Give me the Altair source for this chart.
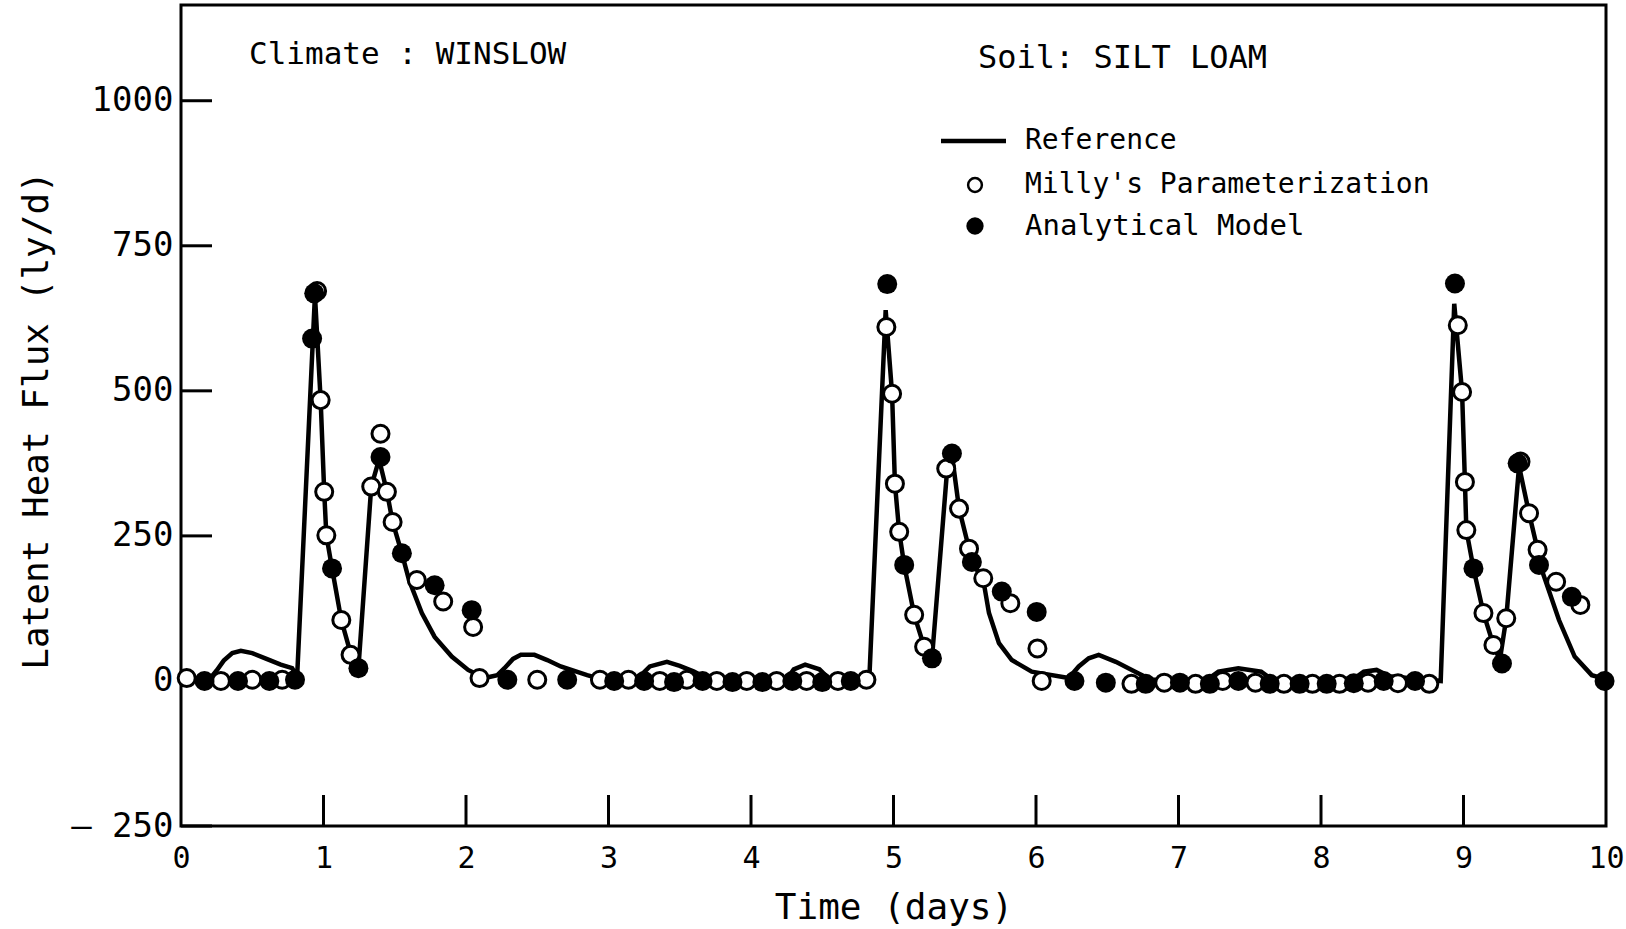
import altair as alt
import pandas as pd

# Reference simulation (solid curve), day vs latent heat flux (ly/d)
ref_day = [0.00, 0.20, 0.25, 0.30, 0.36, 0.42, 0.50, 0.60, 0.70, 0.78,
           0.815, 0.94, 0.98, 1.005, 1.02, 1.06, 1.125, 1.19, 1.245, 1.335,
           1.39, 1.445, 1.485, 1.55, 1.60, 1.69, 1.78, 1.90, 2.015, 2.13,
           2.22, 2.27, 2.33, 2.385, 2.48, 2.57, 2.665, 2.85, 2.95, 3.20,
           3.29, 3.41, 3.50, 3.60, 3.70, 4.25, 4.30, 4.38, 4.48, 4.55,
           4.83, 4.945, 4.99, 5.01, 5.04, 5.075, 5.145, 5.215, 5.27, 5.38,
           5.41, 5.46, 5.53, 5.55, 5.63, 5.67, 5.74, 5.83, 5.97, 6.04,
           6.23, 6.30, 6.37, 6.44, 6.56, 6.72, 6.81, 7.20, 7.28, 7.42,
           7.58, 7.66, 8.22, 8.30, 8.39, 8.48, 8.84, 8.935, 8.99, 9.01,
           9.02, 9.07, 9.14, 9.21, 9.255, 9.30, 9.39, 9.46, 9.52, 9.55,
           9.67, 9.78, 9.90, 10.00]
ref_flux = [3, 3, 18, 35, 48, 52, 48, 38, 28, 22,
            8, 665, 484, 326, 251, 194, 105, 48, 22, 335,
            382, 326, 274, 220, 174, 117, 76, 42, 19, 5,
            10, 22, 38, 45, 45, 36, 25, 10, 3, 3,
            25, 33, 26, 16, 3, 3, 20, 28, 20, 3,
            2, 639, 495, 340, 257, 200, 114, 59, 39, 375,
            390, 297, 228, 205, 174, 117, 65, 36, 16, 13,
            5, 25, 39, 45, 33, 13, 2, 2, 16, 22,
            16, 2, 2, 16, 19, 8, 0, 650, 498, 343,
            260, 194, 117, 62, 36, 108, 370, 289, 226, 191,
            105, 42, 10, 3]

# Milly's parameterization (open circles)
milly_day = [0.04, 0.28, 0.50, 0.71, 0.955, 0.98, 1.005, 1.02, 1.125, 1.19,
             1.335, 1.40, 1.445, 1.485, 1.655, 1.84, 2.05, 2.095, 2.50, 2.94,
             3.14, 3.36, 3.55, 3.76, 3.97, 4.18, 4.39, 4.61, 4.81, 4.95,
             4.99, 5.01, 5.04, 5.145, 5.215, 5.37, 5.46, 5.53, 5.63, 5.82,
             6.01, 6.04, 6.67, 6.90, 7.12, 7.31, 7.54, 7.74, 7.94, 8.13,
             8.33, 8.54, 8.76, 8.96, 8.99, 9.01, 9.02, 9.14, 9.21, 9.30,
             9.40, 9.46, 9.52, 9.65, 9.82]
milly_flux = [5, 0, 2, 2, 672, 484, 326, 251, 105, 45,
              335, 426, 326, 274, 174, 137, 93, 5, 2, 2,
              2, 0, 2, 0, 0, 0, 0, 0, 2, 610,
              495, 340, 257, 114, 59, 366, 297, 228, 177, 134,
              56, 0, -5, -3, -5, 0, -3, -5, -5, -5,
              -3, -4, -5, 613, 498, 343, 260, 117, 62, 108,
              378, 289, 226, 171, 131]

# Analytical model (filled circles)
model_day = [0.165, 0.40, 0.62, 0.80, 0.92, 0.935, 1.06, 1.245, 1.40, 1.55,
             1.78, 2.04, 2.29, 2.71, 3.04, 3.25, 3.46, 3.66, 3.87, 4.08,
             4.29, 4.50, 4.70, 4.956, 5.075, 5.27, 5.41, 5.55, 5.76, 6.005,
             6.27, 6.49, 6.77, 7.01, 7.22, 7.42, 7.64, 7.85, 8.04, 8.23,
             8.44, 8.66, 8.94, 9.07, 9.27, 9.38, 9.53, 9.76, 9.99]
model_flux = [0, 0, 0, 2, 590, 668, 194, 22, 386, 220,
              165, 122, 2, 2, 0, 0, -2, 0, -2, -2,
              0, -2, 0, 684, 200, 39, 392, 205, 154, 119,
              0, -3, -5, -3, -5, 0, -5, -5, -5, -4,
              0, 0, 685, 194, 30, 375, 200, 145, 0]

y_ticks = [-250, 0, 250, 500, 750, 1000]
x_ticks = [0, 1, 2, 3, 4, 5, 6, 7, 8, 9, 10]
x_inner_ticks = [1, 2, 3, 4, 5, 6, 7, 8, 9]

climate_text = "Climate : WINSLOW"
soil_text = "Soil: SILT LOAM"
legend_labels = ["Reference", "Milly's Parameterization", "Analytical Model"]

W, H = 1425, 821
TICK = 31
FONT = "DejaVu Sans Mono"

x_scale = alt.Scale(domain=[0, 10], nice=False, zero=False)
y_scale = alt.Scale(domain=[-250, 1165], nice=False, zero=False)

ref_df = pd.DataFrame({"day": ref_day, "flux": ref_flux})
milly_df = pd.DataFrame({"day": milly_day, "flux": milly_flux})
model_df = pd.DataFrame({"day": model_day, "flux": model_flux})

x_axis = alt.Axis(values=x_ticks, ticks=False, domain=False, grid=False,
                  labelFont=FONT, labelFontSize=30, labelColor="black",
                  labelPadding=17, labelFlush=False, format="d",
                  title="Time (days)", titleFont=FONT, titleFontSize=36,
                  titleFontWeight="normal", titleColor="black", titlePadding=17)
y_axis = alt.Axis(values=y_ticks, ticks=False, domain=False, grid=False,
                  labelFont=FONT, labelFontSize=34, labelColor="black",
                  labelPadding=8,
                  labelExpr="datum.value < 0 ? '– ' + abs(datum.value) : '' + datum.value",
                  title="Latent Heat Flux (ly/d)", titleFont=FONT, titleFontSize=36,
                  titleFontWeight="normal", titleColor="black",
                  titleAngle=270, titleX=-145, titleY=415,
                  titleAlign="center", titleBaseline="middle")

X = alt.X("day:Q", scale=x_scale, axis=x_axis, title="Time (days)")
Y = alt.Y("flux:Q", scale=y_scale, axis=y_axis, title="Latent Heat Flux (ly/d)")

# inward tick marks on both axes
y_tick_marks = alt.Chart(pd.DataFrame({"flux": y_ticks})).mark_rule(
    color="black", strokeWidth=3
).encode(y=Y, x=alt.value(0), x2=alt.value(TICK))
x_tick_marks = alt.Chart(pd.DataFrame({"day": x_inner_ticks})).mark_rule(
    color="black", strokeWidth=3
).encode(x=X, y=alt.value(H), y2=alt.value(H - TICK))

ref_line = alt.Chart(ref_df).mark_line(color="black", strokeWidth=4.5).encode(x=X, y=Y)
milly_pts = alt.Chart(milly_df).mark_circle(
    size=290, fill="white", stroke="black", strokeWidth=3, opacity=1
).encode(x=X, y=Y)
model_pts = alt.Chart(model_df).mark_circle(
    size=400, color="black", opacity=1
).encode(x=X, y=Y)

def label(text, x, y, size):
    return alt.Chart(pd.DataFrame({"t": [text]})).mark_text(
        font=FONT, fontSize=size, align="left", baseline="middle", color="black"
    ).encode(text="t:N", x=alt.value(x), y=alt.value(y))

climate = label(climate_text, 68, 50, 31)
soil = label(soil_text, 797, 53, 32)

leg_line = alt.Chart(pd.DataFrame({"t": [legend_labels[0]]})).mark_rule(
    color="black", strokeWidth=4.5
).encode(x=alt.value(760), x2=alt.value(825), y=alt.value(136))
leg_open = alt.Chart(pd.DataFrame({"t": [legend_labels[1]]})).mark_circle(
    size=190, fill="white", stroke="black", strokeWidth=2.5, opacity=1
).encode(x=alt.value(794), y=alt.value(180))
leg_fill = alt.Chart(pd.DataFrame({"t": [legend_labels[2]]})).mark_circle(
    size=300, color="black", opacity=1
).encode(x=alt.value(794), y=alt.value(221))
leg_t1 = label(legend_labels[0], 844, 136, 28)
leg_t2 = label(legend_labels[1], 844, 180, 28)
leg_t3 = label(legend_labels[2], 844, 221, 29)

chart = alt.layer(
    y_tick_marks, x_tick_marks, ref_line, milly_pts, model_pts,
    climate, soil, leg_line, leg_open, leg_fill, leg_t1, leg_t2, leg_t3,
).properties(
    width=W, height=H,
    padding={"left": 181, "top": 5, "right": 20, "bottom": 103},
    autosize=alt.AutoSizeParams(type="none"),
    background="white",
).configure_view(stroke="black", strokeWidth=3)

chart.save("out.html", embed_options={"renderer": "svg", "actions": False})
